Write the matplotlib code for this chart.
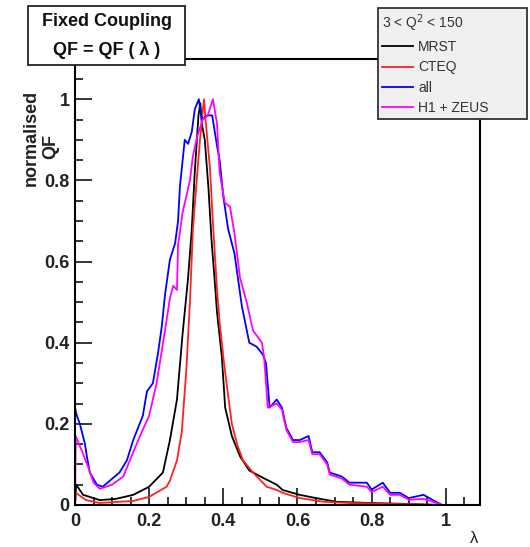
# Fixed coupling QF(lambda) for different PDF sets, normalised to peak

import matplotlib.pyplot as plt
from matplotlib.patches import Rectangle
from matplotlib.ticker import MultipleLocator, FuncFormatter

plt.rcParams['font.family'] = ['Liberation Sans', 'DejaVu Sans']

# MRST (black)
mrst_x = [0, 0.003, 0.022, 0.067, 0.11, 0.157, 0.2, 0.237, 0.256, 0.275, 0.29, 0.305, 0.315,
          0.323, 0.333, 0.338, 0.342, 0.35, 0.36, 0.368, 0.377, 0.383, 0.396, 0.405, 0.423,
          0.445, 0.47, 0.507, 0.544, 0.56, 0.606, 0.65, 0.705, 0.79, 0.876, 0.99]
mrst_y = [0, 0.05, 0.025, 0.012, 0.015, 0.025, 0.045, 0.08, 0.16, 0.26, 0.42, 0.56, 0.68,
          0.82, 0.96, 0.99, 0.94, 0.90, 0.78, 0.655, 0.55, 0.475, 0.365, 0.24, 0.17,
          0.12, 0.085, 0.067, 0.05, 0.037, 0.025, 0.017, 0.008, 0.005, 0.003, 0.0]

# CTEQ (red)
cteq_x = [0, 0.002, 0.03, 0.067, 0.157, 0.2, 0.247, 0.256, 0.275, 0.288, 0.30, 0.31, 0.318,
          0.33, 0.337, 0.345, 0.348, 0.352, 0.356, 0.364, 0.372, 0.383, 0.39, 0.40, 0.41,
          0.423, 0.437, 0.453, 0.48, 0.517, 0.544, 0.56, 0.606, 0.67, 0.74, 0.9, 0.99]
cteq_y = [0, 0.03, 0.012, 0.005, 0.01, 0.02, 0.045, 0.06, 0.11, 0.18, 0.33, 0.50, 0.68,
          0.82, 0.90, 0.975, 1.0, 0.95, 0.91, 0.83, 0.695, 0.53, 0.45, 0.365, 0.29,
          0.20, 0.15, 0.11, 0.08, 0.045, 0.037, 0.03, 0.017, 0.008, 0.005, 0.002, 0.0]

# all (blue)
all_x = [0, 0.005, 0.013, 0.027, 0.032, 0.04, 0.059, 0.075, 0.094, 0.12, 0.14, 0.157, 0.183,
         0.194, 0.21, 0.224, 0.234, 0.243, 0.256, 0.27, 0.278, 0.283, 0.296, 0.305, 0.315,
         0.323, 0.334, 0.342, 0.356, 0.37, 0.383, 0.39, 0.40, 0.413, 0.43, 0.45, 0.47,
         0.49, 0.507, 0.515, 0.525, 0.544, 0.558, 0.57, 0.588, 0.606, 0.63, 0.64, 0.66,
         0.68, 0.687, 0.72, 0.74, 0.787, 0.80, 0.83, 0.85, 0.876, 0.90, 0.94, 0.965, 0.99]
all_y = [0.24, 0.22, 0.20, 0.15, 0.12, 0.08, 0.05, 0.045, 0.06, 0.08, 0.11, 0.16, 0.22,
         0.28, 0.30, 0.375, 0.44, 0.52, 0.605, 0.645, 0.70, 0.785, 0.90, 0.89, 0.92,
         0.975, 1.0, 0.95, 0.96, 0.96, 0.885, 0.85, 0.76, 0.68, 0.62, 0.49, 0.40,
         0.39, 0.37, 0.35, 0.24, 0.26, 0.24, 0.19, 0.16, 0.16, 0.17, 0.13, 0.13,
         0.105, 0.08, 0.07, 0.055, 0.055, 0.038, 0.055, 0.03, 0.03, 0.017, 0.025, 0.012, 0.0]

# H1 + ZEUS (magenta)
hz_x = [0, 0.002, 0.02, 0.035, 0.05, 0.067, 0.10, 0.13, 0.157, 0.18, 0.20, 0.22, 0.234,
        0.247, 0.256, 0.265, 0.275, 0.278, 0.29, 0.31, 0.318, 0.33, 0.345, 0.358, 0.372,
        0.383, 0.39, 0.404, 0.418, 0.43, 0.445, 0.463, 0.48, 0.504, 0.51, 0.52, 0.544,
        0.558, 0.57, 0.588, 0.606, 0.63, 0.64, 0.66, 0.68, 0.687, 0.72, 0.74, 0.787,
        0.80, 0.83, 0.85, 0.876, 0.90, 0.94, 0.965, 0.99]
hz_y = [0, 0.17, 0.13, 0.095, 0.055, 0.04, 0.05, 0.07, 0.13, 0.18, 0.22, 0.30, 0.38,
        0.455, 0.51, 0.54, 0.53, 0.64, 0.72, 0.80, 0.86, 0.91, 0.95, 0.96, 1.0,
        0.94, 0.82, 0.745, 0.735, 0.67, 0.56, 0.50, 0.43, 0.40, 0.365, 0.24, 0.25,
        0.235, 0.185, 0.155, 0.155, 0.16, 0.125, 0.125, 0.10, 0.075, 0.065, 0.05, 0.045,
        0.032, 0.045, 0.025, 0.025, 0.013, 0.015, 0.008, 0.0]

fig = plt.figure(figsize=(5.3, 5.47), dpi=100)
ax = fig.add_axes([0.1415, 0.0768, 0.764, 0.816])

ax.plot(mrst_x, mrst_y, color='black', lw=1.3, label='MRST')
ax.plot(cteq_x, cteq_y, color='#ff2020', lw=1.3, label='CTEQ')
ax.plot(all_x, all_y, color='#0000ff', lw=1.3, label='all')
ax.plot(hz_x, hz_y, color='#ff00ff', lw=1.3, label='H1 + ZEUS')

ax.set_xlim(0, 1.092)
ax.set_ylim(0, 1.10)
ax.xaxis.set_major_locator(MultipleLocator(0.2))
ax.xaxis.set_minor_locator(MultipleLocator(0.05))
ax.yaxis.set_major_locator(MultipleLocator(0.2))
ax.yaxis.set_minor_locator(MultipleLocator(0.05))
fmt = FuncFormatter(lambda v, p: '%g' % round(v, 2) if v <= 1.01 else '')
ax.xaxis.set_major_formatter(fmt)
ax.yaxis.set_major_formatter(fmt)
ax.tick_params(which='major', direction='in', length=12, width=1.1, labelsize=13, pad=4)
ax.tick_params(which='minor', direction='in', length=6, width=1.1)
ax.tick_params(axis='x', pad=6)
for lab in ax.get_xticklabels() + ax.get_yticklabels():
    lab.set_fontweight('bold')
    lab.set_color('#222222')
for s in ax.spines.values():
    s.set_linewidth(1.5)

# y axis title, two lines as in the original
fig.text(0.0585, 0.748, 'normalised', rotation=90, ha='center', va='center',
         fontsize=13, fontweight='bold', color='#222222')
fig.text(0.096, 0.733, 'QF', rotation=90, ha='center', va='center',
         fontsize=13, fontweight='bold', color='#222222')
fig.text(0.894, 0.015, 'λ', fontsize=12, ha='center', va='center', color='#222222')

# title box
fig.add_artist(Rectangle((0.053, 0.881), 0.296, 0.108, transform=fig.transFigure,
                         facecolor='white', edgecolor='#222222', lw=1.3, zorder=5))
fig.text(0.201, 0.960, 'Fixed Coupling', ha='center', va='center', fontsize=13,
         fontweight='bold', color='#111111', zorder=6)
fig.text(0.201, 0.909, 'QF = QF ( λ )', ha='center', va='center', fontsize=13,
         fontweight='bold', color='#111111', zorder=6)

leg = fig.legend(loc='upper left', bbox_to_anchor=(0.713, 0.790, 0.281, 0.195),
                 mode='expand', title='3 < Q$^2$ < 150', alignment='left',
                 fontsize=10, title_fontsize=10, frameon=True, fancybox=False,
                 facecolor='#f0f0f0', edgecolor='#333333', framealpha=1,
                 handlelength=2.2, handletextpad=0.4, labelspacing=0.45,
                 borderpad=0.3, borderaxespad=0)
leg.get_frame().set_linewidth(1.3)
leg.set_zorder(7)
for t in leg.get_texts():
    t.set_color('#333333')
leg.get_title().set_color('#333333')

fig.savefig('out.png', dpi=100)
